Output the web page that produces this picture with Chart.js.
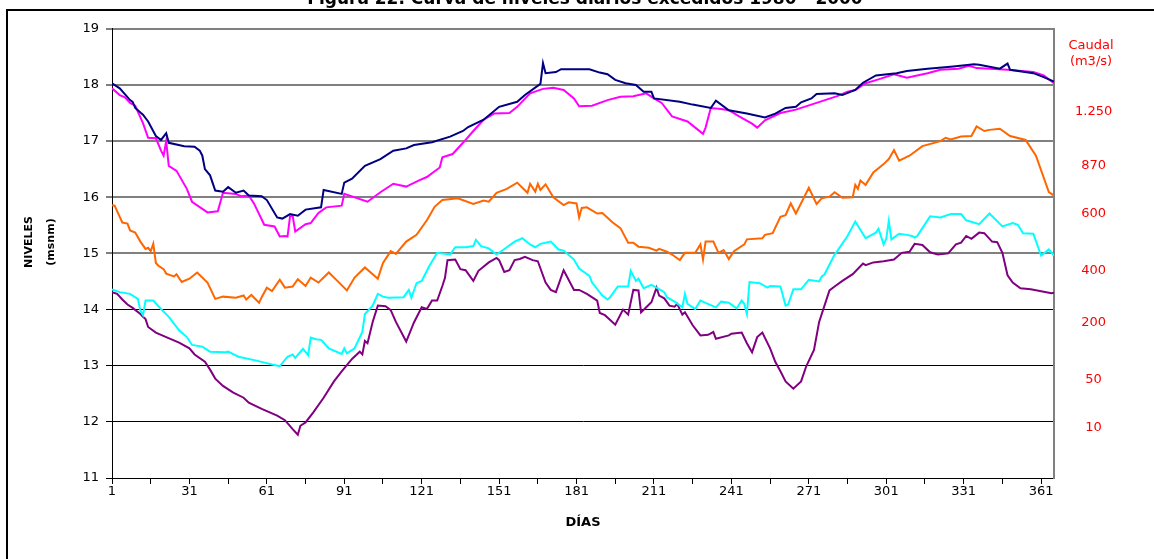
<!DOCTYPE html>
<html>
<head>
<meta charset="utf-8">
<script src="https://cdn.jsdelivr.net/npm/chart.js@4.4.0/dist/chart.umd.min.js"></script>
<style>
html,body{margin:0;padding:0;background:#fff;overflow:hidden}
#wrap{position:relative;width:1154px;height:559px}
</style>
</head>
<body>
<div id="wrap"><canvas id="c" width="1154" height="559"></canvas></div>
<script>
// ---------- text ----------
const chartTitle = 'Figura 22. Curva de niveles diarios excedidos 1980 - 2000';
const yTitleLines = ['NIVELES', '(msnm)'];
const xTitle = 'DÍAS';
const caudalTitleLines = ['Caudal', '(m3/s)'];

// ---------- tick labels ----------
const xTickLabels = [1, 31, 61, 91, 121, 151, 181, 211, 241, 271, 301, 331, 361];
const xTickDays = [1, 16, 31, 46, 61, 76, 91, 106, 121, 136, 151, 166, 181, 196, 211, 226, 241, 256, 271, 286, 301, 316, 331, 346, 361];
const caudalTickLabels = ['1.250', '870', '600', '400', '200', '50', '10'];
const caudalTickLevels = [17.52, 16.57, 15.70, 14.69, 13.76, 12.76, 11.90];

// ---------- series (day, nivel msnm) ----------
const navyDays = [1,4,8,9,10,13,15,18,20,22,23,29,33,35,36,37,39,41,44,46,49,52,54,59,61,65,67,70,73,76,82,83,90,91,94,99,105,110,115,118,125,132,137,139,145,151,158,161,167,168,169,173,175,186,190,193,196,200,204,207,210,211,221,226,233,235,240,247,254,258,262,266,268,272,274,281,284,289,292,297,305,309,317,327,335,337,345,348,349,358,362,366];
const navyVals = [18.03,17.94,17.73,17.70,17.59,17.47,17.35,17.09,17.02,17.14,16.97,16.91,16.90,16.83,16.74,16.50,16.39,16.12,16.10,16.18,16.08,16.12,16.03,16.02,15.95,15.64,15.62,15.70,15.67,15.78,15.82,16.13,16.06,16.26,16.33,16.56,16.68,16.83,16.87,16.93,16.98,17.08,17.18,17.25,17.38,17.61,17.70,17.82,18.02,18.39,18.21,18.23,18.28,18.28,18.22,18.19,18.09,18.03,18.00,17.88,17.88,17.76,17.70,17.65,17.59,17.72,17.55,17.49,17.42,17.49,17.59,17.61,17.69,17.76,17.84,17.85,17.82,17.91,18.04,18.17,18.21,18.25,18.29,18.33,18.37,18.36,18.29,18.38,18.27,18.21,18.14,18.06];

const magentaDays = [1,4,6,8,10,13,15,18,20,21,22,23,26,30,32,38,42,44,49,51,54,56,60,64,66,68,69,70,71,72,76,78,81,84,90,91,100,105,110,115,116,120,123,128,129,133,137,141,145,149,155,158,163,168,172,176,180,182,187,193,198,203,208,211,214,218,224,227,230,231,233,237,240,244,249,251,254,260,266,274,282,286,289,293,298,304,309,317,322,329,333,336,348,358,362,366];
const magentaVals = [17.94,17.82,17.78,17.68,17.63,17.32,17.06,17.05,16.83,16.74,17.00,16.56,16.47,16.15,15.92,15.73,15.75,16.08,16.06,16.02,16.03,15.89,15.51,15.48,15.30,15.31,15.30,15.66,15.67,15.39,15.52,15.54,15.72,15.82,15.85,16.06,15.92,16.09,16.24,16.19,16.21,16.30,16.36,16.53,16.71,16.77,16.97,17.18,17.38,17.49,17.50,17.61,17.85,17.93,17.95,17.91,17.76,17.62,17.63,17.73,17.79,17.80,17.85,17.76,17.68,17.44,17.35,17.24,17.13,17.24,17.59,17.57,17.55,17.44,17.31,17.24,17.37,17.50,17.56,17.68,17.80,17.88,17.91,18.03,18.10,18.19,18.13,18.21,18.27,18.29,18.34,18.30,18.27,18.23,18.17,18.03];

const orangeDays = [1,2,4,5,7,8,10,12,14,15,16,17,18,19,21,22,25,26,28,31,34,38,41,44,49,52,53,55,58,59,61,63,66,68,71,73,76,78,81,83,85,89,92,95,99,104,106,109,111,115,119,123,126,129,135,141,145,147,150,154,158,162,163,165,166,167,169,172,176,178,181,182,183,185,189,191,195,198,201,203,205,209,212,213,216,218,221,223,227,229,230,231,234,236,238,240,242,246,247,253,254,257,260,262,264,266,271,274,276,279,281,284,288,289,290,291,293,296,300,302,304,306,310,315,322,324,326,330,334,336,339,341,345,349,355,359,364,366];
const orangeVals = [15.86,15.85,15.65,15.55,15.53,15.41,15.37,15.21,15.08,15.10,15.04,15.17,14.83,14.78,14.72,14.64,14.59,14.63,14.49,14.55,14.66,14.48,14.19,14.23,14.21,14.25,14.18,14.26,14.12,14.22,14.39,14.33,14.53,14.39,14.41,14.54,14.42,14.57,14.48,14.57,14.66,14.48,14.34,14.57,14.75,14.55,14.83,15.04,14.99,15.21,15.33,15.59,15.83,15.95,15.98,15.88,15.94,15.92,16.08,16.15,16.26,16.08,16.24,16.10,16.24,16.13,16.23,16.00,15.86,15.91,15.89,15.64,15.81,15.82,15.71,15.72,15.55,15.45,15.19,15.19,15.12,15.10,15.05,15.08,15.03,14.98,14.88,15.01,15.01,15.16,14.89,15.21,15.21,15.01,15.06,14.90,15.04,15.16,15.25,15.27,15.33,15.36,15.65,15.68,15.89,15.71,16.17,15.88,15.98,16.01,16.09,15.99,16.00,16.22,16.15,16.30,16.22,16.44,16.59,16.68,16.84,16.65,16.74,16.91,17.00,17.06,17.03,17.08,17.09,17.26,17.18,17.20,17.22,17.09,17.02,16.74,16.09,16.03];

const cyanDays = [1,4,8,11,12,13,14,17,20,23,27,30,32,36,39,45,46,50,57,63,66,69,71,72,75,77,78,80,82,85,90,91,92,95,98,99,102,104,106,108,114,116,117,119,121,124,127,132,134,138,141,142,144,147,150,154,157,160,163,165,167,171,174,176,180,182,186,187,191,193,194,197,201,202,204,205,207,210,212,215,216,219,222,223,224,227,229,231,235,237,240,243,245,246,247,248,252,255,256,260,262,263,265,268,271,275,276,277,281,282,286,289,293,297,298,300,301,302,303,306,309,311,312,313,315,318,322,326,330,332,337,341,346,350,352,354,358,361,364,366];
const cyanVals = [14.36,14.31,14.28,14.19,13.98,13.90,14.16,14.16,14.01,13.87,13.63,13.51,13.37,13.34,13.25,13.24,13.25,13.16,13.09,13.02,12.99,13.16,13.20,13.14,13.30,13.19,13.50,13.47,13.46,13.31,13.21,13.31,13.22,13.31,13.60,13.92,14.07,14.28,14.23,14.21,14.22,14.35,14.21,14.47,14.51,14.78,15.01,14.98,15.11,15.11,15.13,15.24,15.13,15.09,14.98,15.11,15.21,15.27,15.16,15.11,15.17,15.21,15.07,15.05,14.89,14.73,14.60,14.48,14.25,14.18,14.22,14.41,14.41,14.69,14.51,14.55,14.38,14.44,14.39,14.31,14.22,14.14,14.04,14.28,14.10,14.01,14.16,14.12,14.04,14.14,14.12,14.02,14.16,14.10,13.92,14.49,14.47,14.39,14.42,14.41,14.07,14.09,14.36,14.36,14.53,14.50,14.59,14.62,14.98,15.04,15.31,15.57,15.27,15.37,15.44,15.16,15.26,15.58,15.25,15.35,15.33,15.31,15.28,15.31,15.45,15.66,15.64,15.70,15.70,15.59,15.52,15.71,15.48,15.54,15.51,15.36,15.35,14.96,15.07,14.96];

const purpleDays = [1,3,5,7,9,12,13,14,15,18,22,27,31,33,37,39,41,44,48,52,54,59,65,68,71,73,74,76,79,83,87,90,94,97,98,99,100,102,104,107,109,111,115,118,121,123,125,127,129,130,131,134,136,138,141,143,147,150,151,153,155,157,159,161,164,166,169,171,173,176,180,182,185,189,190,192,196,199,201,203,205,206,208,210,212,213,215,217,219,220,222,223,226,229,232,234,235,240,241,245,247,249,251,253,256,258,260,262,265,268,270,273,275,279,281,284,288,292,293,296,300,304,307,310,312,315,318,321,325,328,330,332,334,337,339,342,344,346,348,350,353,357,365,366];
const purpleVals = [14.31,14.28,14.18,14.09,14.03,13.92,13.87,13.83,13.69,13.59,13.51,13.41,13.31,13.20,13.07,12.93,12.77,12.64,12.52,12.43,12.34,12.23,12.11,12.03,11.87,11.77,11.93,11.99,12.17,12.43,12.72,12.90,13.12,13.25,13.20,13.44,13.40,13.78,14.07,14.06,13.99,13.78,13.43,13.77,14.04,14.01,14.16,14.16,14.42,14.56,14.88,14.89,14.72,14.70,14.51,14.69,14.84,14.92,14.88,14.67,14.70,14.88,14.90,14.94,14.88,14.86,14.48,14.35,14.31,14.70,14.35,14.35,14.28,14.16,13.94,13.90,13.73,14.00,13.91,14.35,14.34,13.95,14.04,14.13,14.39,14.25,14.20,14.07,14.05,14.10,13.91,13.95,13.72,13.54,13.55,13.60,13.48,13.54,13.57,13.59,13.40,13.24,13.51,13.59,13.31,13.07,12.90,12.72,12.59,12.72,12.99,13.28,13.78,14.34,14.41,14.51,14.63,14.82,14.79,14.84,14.86,14.89,15.01,15.03,15.17,15.15,15.02,14.98,15.00,15.16,15.19,15.31,15.26,15.37,15.36,15.21,15.20,15.01,14.61,14.48,14.38,14.36,14.29,14.30];

// ---------- build ----------
const toPts = (d, v) => d.map((x, i) => ({x: x, y: v[i]}));
const FONT = 'DejaVu Sans';
const line = (label, d, v, color) => ({
  label: label, data: toPts(d, v), borderColor: color, backgroundColor: color,
  borderWidth: 2, pointRadius: 0, tension: 0, fill: false, yAxisID: 'y'
});

const decor = {
  id: 'decor',
  beforeDraw(chart) {
    const ctx = chart.ctx;
    ctx.save();
    ctx.fillStyle = '#fff';
    ctx.fillRect(0, 0, chart.width, chart.height);
    ctx.restore();
  },
  afterDraw(chart) {
    const ctx = chart.ctx;
    ctx.save();
    // outer frame
    ctx.strokeStyle = '#000';
    ctx.lineWidth = 2;
    ctx.strokeRect(7, 10, chart.width + 10, chart.height + 10);
    // title (partly cut at the top)
    ctx.fillStyle = '#000';
    ctx.font = 'bold 17px "' + FONT + '"';
    ctx.textAlign = 'center';
    ctx.textBaseline = 'alphabetic';
    ctx.fillText(chartTitle, 585, 4);
    // y title
    ctx.font = 'bold 11px "' + FONT + '"';
    ctx.translate(29, 242);
    ctx.rotate(-Math.PI / 2);
    ctx.textBaseline = 'middle';
    ctx.fillText(yTitleLines[0], 0, 0);
    ctx.fillText(yTitleLines[1], 0, 22);
    ctx.restore();
    // caudal title
    ctx.save();
    ctx.fillStyle = '#FF0000';
    ctx.font = '13px "' + FONT + '"';
    ctx.textAlign = 'center';
    ctx.textBaseline = 'middle';
    ctx.fillText(caudalTitleLines[0], 1091, 46);
    ctx.fillText(caudalTitleLines[1], 1091, 62);
    ctx.restore();
  }
};

new Chart(document.getElementById('c'), {
  type: 'line',
  data: {
    datasets: [
      line('Nivel 1', navyDays, navyVals, '#000080'),
      line('Nivel 2', magentaDays, magentaVals, '#FF00FF'),
      line('Nivel 3', orangeDays, orangeVals, '#FF6600'),
      line('Nivel 4', cyanDays, cyanVals, '#00FFFF'),
      line('Nivel 5', purpleDays, purpleVals, '#800080')
    ]
  },
  options: {
    responsive: false,
    animation: false,
    devicePixelRatio: 1,
    layout: {padding: {left: 12, right: 0, top: 23, bottom: 12}},
    plugins: {legend: {display: false}, tooltip: {enabled: false}, title: {display: false}},
    scales: {
      x: {
        type: 'linear', min: 1, max: 366,
        afterBuildTicks: s => { s.ticks = xTickDays.map(v => ({value: v})); },
        afterFit: s => { s.height = 69; },
        ticks: {
          autoSkip: false, maxRotation: 0, minRotation: 0, padding: 0,
          color: '#000', font: {family: FONT, size: 13},
          callback: v => (xTickLabels.indexOf(v) >= 0 ? String(v) : '')
        },
        grid: {drawOnChartArea: false, drawTicks: true, tickLength: 6, color: '#000', tickColor: '#000', lineWidth: 1},
        border: {display: true, color: '#000', width: 1},
        title: {display: true, text: xTitle, color: '#000', font: {family: FONT, size: 13, weight: 'bold'}, padding: {top: 0, bottom: 17}}
      },
      y: {
        position: 'left', min: 11, max: 19,
        afterFit: s => { s.width = 100; },
        ticks: {stepSize: 1, color: '#000', font: {family: FONT, size: 13}, padding: 7},
        grid: {
          drawTicks: true, tickLength: 6, tickColor: '#000', tickWidth: 1,
          color: c => (c.tick && c.tick.value >= 15 ? '#808080' : '#000'),
          lineWidth: c => (c.tick && c.tick.value >= 15 ? 2 : 1)
        },
        border: {display: true, color: '#000', width: 1}
      },
      y2: {
        position: 'right', min: 11, max: 19,
        afterBuildTicks: s => { s.ticks = caudalTickLevels.map(v => ({value: v})); },
        afterFit: s => { s.width = 100; },
        ticks: {
          color: '#FF0000', font: {family: FONT, size: 13}, padding: 21, crossAlign: 'center', autoSkip: false,
          callback: (v, i) => caudalTickLabels[i]
        },
        grid: {display: false, drawOnChartArea: false, drawTicks: false},
        border: {display: true, color: '#808080', width: 2}
      }
    }
  },
  plugins: [decor]
});
</script>
</body>
</html>
